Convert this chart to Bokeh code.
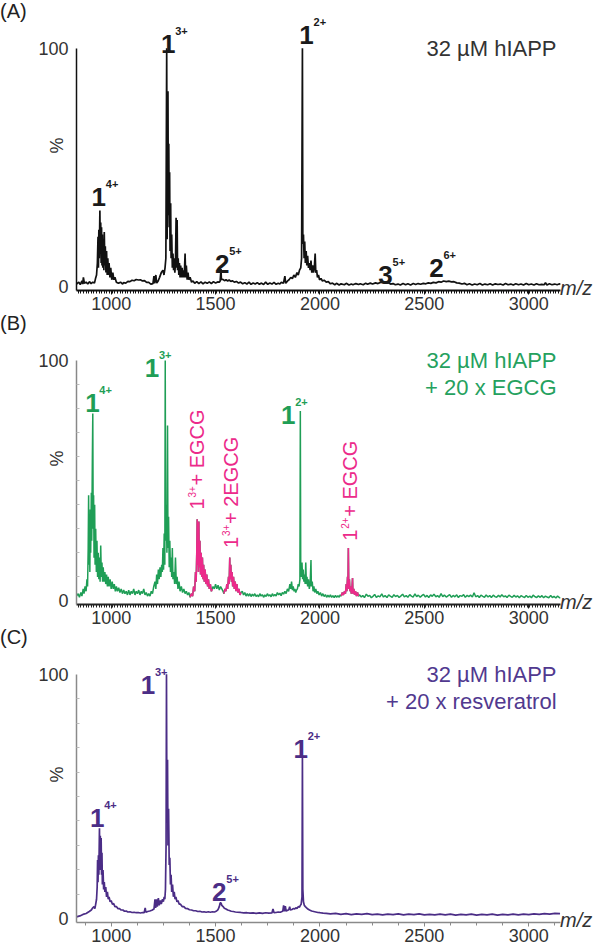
import numpy as np
from math import pi
from bokeh.plotting import figure
from bokeh.layouts import column
from bokeh.models import Range1d, FixedTicker, Legend, LegendItem
from bokeh.core.properties import value
from bokeh.embed import file_html
from bokeh.resources import INLINE

FONT = "Liberation Sans"

# ---------------- data ----------------
x_ticks = [1000, 1500, 2000, 2500, 3000]
y_ticks = [0, 100]

spec_A = [
    (834, 1.2), (845, 2.0), (852, 1.0), (860, 2.5), (864, 1.2), (867, 4.0), (872, 1.5), (880, 2.0),
    (888, 1.2), (896, 2.2), (904, 1.4), (912, 2.0), (920, 1.6), (925, 3.5), (930, 5), (934, 10),
    (937, 21), (939, 8), (941, 24), (943, 12), (946, 32), (948, 14), (950, 27), (952, 10), (954, 25),
    (956, 9), (958, 22), (960, 8), (962, 20), (965, 7), (967, 23), (970, 9), (972, 17), (975, 6),
    (978, 15), (981, 5), (984, 12), (987, 5), (990, 10), (994, 4), (998, 8), (1003, 3), (1008, 6),
    (1013, 3), (1018, 4), (1025, 2), (1035, 1.5), (1045, 2.0), (1055, 1.2), (1060, 1.8), (1070, 1.6),
    (1080, 2.3), (1090, 2.2), (1100, 2.8), (1110, 2.6), (1120, 3.1), (1130, 2.9), (1140, 3.0),
    (1150, 2.5), (1160, 2.6), (1170, 1.9), (1180, 1.9), (1190, 1.2), (1200, 1.4), (1205, 4.5),
    (1208, 1.5), (1214, 5.0), (1218, 1.6), (1225, 2.5), (1232, 4), (1240, 6), (1248, 7), (1253, 5),
    (1258, 8), (1262, 12), (1266, 100), (1268, 20), (1272, 82), (1274, 30), (1276, 60), (1278, 25),
    (1280, 48), (1282, 15), (1285, 35), (1287, 12), (1290, 22), (1293, 8), (1296, 14), (1299, 7),
    (1302, 12), (1305, 6), (1308, 10), (1311, 29), (1313, 8), (1316, 28), (1318, 7), (1321, 12),
    (1324, 5), (1327, 10), (1330, 4), (1333, 9), (1336, 4), (1340, 8), (1343, 4), (1346, 7),
    (1350, 4), (1354, 14), (1357, 4), (1360, 9), (1364, 3), (1368, 6), (1372, 3), (1378, 4),
    (1385, 2), (1392, 2.5), (1400, 1.5), (1410, 2.2), (1420, 1.4), (1430, 2.1), (1440, 1.3),
    (1450, 2.0), (1460, 1.5), (1470, 2.1), (1480, 1.4), (1490, 2.2), (1500, 1.6), (1510, 2.1),
    (1518, 2.0), (1522, 2.5), (1526, 7.5), (1528, 3), (1535, 3.2), (1543, 2.6), (1550, 3.0),
    (1558, 2.5), (1565, 2.9), (1573, 2.3), (1580, 2.6), (1590, 2.0), (1600, 2.3), (1610, 1.6),
    (1620, 2.0), (1630, 1.3), (1640, 1.8), (1650, 1.2), (1660, 2.0), (1670, 1.1), (1680, 1.6),
    (1690, 1.2), (1700, 1.8), (1710, 1.1), (1720, 1.6), (1730, 1.0), (1740, 2.0), (1750, 1.1),
    (1760, 1.6), (1770, 1.2), (1780, 1.9), (1790, 1.1), (1800, 1.5), (1808, 1.2), (1815, 2.0),
    (1825, 1.5), (1832, 4.5), (1836, 1.5), (1845, 2.5), (1852, 3), (1860, 4), (1868, 3.5),
    (1875, 5), (1882, 4), (1890, 6), (1896, 5), (1902, 7), (1908, 8), (1912, 12), (1916, 100),
    (1918, 18), (1921, 22), (1924, 12), (1927, 19), (1930, 10), (1934, 15), (1937, 9), (1941, 13),
    (1945, 8), (1949, 10), (1953, 7), (1957, 11), (1961, 6), (1965, 9), (1969, 6), (1973, 8),
    (1977, 14), (1980, 6), (1984, 7), (1988, 4), (1993, 5), (1998, 3), (2005, 3.5), (2012, 2.5),
    (2020, 2.8), (2030, 2.0), (2040, 2.2), (2050, 1.3), (2060, 1.6), (2071, 0.9), (2079, 1.5),
    (2092, 0.8), (2101, 1.3), (2117, 0.9), (2126, 1.5), (2139, 0.8), (2150, 1.2), (2158, 0.9),
    (2172, 1.4), (2185, 1.0), (2193, 1.3), (2207, 0.9), (2219, 1.5), (2228, 1.1), (2241, 1.6),
    (2252, 1.2), (2266, 1.7), (2278, 1.4), (2290, 1.9), (2303, 2.0), (2315, 1.6), (2326, 1.8),
    (2338, 1.2), (2350, 1.4), (2361, 0.9), (2374, 1.2), (2385, 0.8), (2398, 1.4), (2410, 0.9),
    (2421, 1.3), (2434, 0.8), (2447, 1.4), (2458, 1.0), (2470, 1.4), (2482, 1.1), (2495, 1.5),
    (2507, 1.3), (2519, 1.7), (2531, 1.5), (2543, 1.9), (2556, 1.7), (2568, 2.2), (2580, 2.0),
    (2592, 2.5), (2605, 2.2), (2617, 2.4), (2630, 2.1), (2642, 2.2), (2655, 1.7), (2667, 1.6),
    (2680, 1.2), (2692, 1.5), (2704, 0.9), (2716, 1.3), (2729, 0.8), (2741, 1.2), (2753, 0.9),
    (2766, 1.4), (2778, 0.8), (2790, 1.2), (2803, 0.9), (2815, 1.3), (2827, 0.8), (2840, 1.3),
    (2852, 1.0), (2864, 1.2), (2877, 0.8), (2889, 1.4), (2901, 0.9), (2914, 1.2), (2926, 0.8),
    (2938, 1.3), (2951, 0.9), (2963, 1.2), (2975, 0.8), (2988, 1.4), (3000, 0.9), (3012, 1.2),
    (3025, 0.8), (3037, 1.3), (3049, 0.9), (3062, 1.1), (3074, 0.9), (3080, 1.8), (3087, 0.8),
    (3099, 1.3), (3111, 0.9), (3124, 1.2), (3136, 0.9), (3148, 1.3), (3152, 1.0),
]

spec_B = [
    (834, 2.0), (842, 3), (848, 1.5), (855, 3.5), (860, 2), (866, 5), (870, 3), (875, 6), (880, 4),
    (884, 9), (887, 6), (890, 22), (892, 44), (894, 15), (896, 30), (898, 12), (900, 38), (902, 20),
    (905, 45), (907, 25), (910, 60), (912, 78), (914, 30), (916, 44), (918, 18), (921, 40), (923, 15),
    (926, 30), (929, 12), (932, 25), (935, 10), (938, 20), (941, 9), (944, 18), (947, 8), (950, 23),
    (953, 10), (956, 16), (959, 8), (962, 14), (966, 8), (970, 12), (974, 7), (978, 11), (982, 6),
    (986, 10), (990, 6), (995, 9), (1000, 5), (1005, 8), (1010, 5), (1015, 7), (1020, 4), (1025, 6),
    (1030, 4), (1036, 5.5), (1042, 3.5), (1048, 5), (1054, 3), (1060, 4.5), (1066, 3), (1072, 4),
    (1078, 2.5), (1084, 4.5), (1090, 2.5), (1096, 4), (1102, 3), (1108, 5), (1114, 2.5), (1120, 4),
    (1126, 3), (1132, 4.5), (1138, 2.5), (1144, 4), (1150, 3), (1156, 5), (1162, 2.5), (1168, 3.5),
    (1174, 2), (1180, 3), (1186, 2), (1192, 4), (1198, 3), (1204, 6), (1210, 8), (1214, 5),
    (1218, 11), (1222, 7), (1226, 13), (1230, 9), (1234, 14), (1238, 10), (1242, 15), (1245, 12),
    (1248, 22), (1251, 13), (1254, 28), (1257, 15), (1259, 100), (1261, 25), (1264, 40), (1267, 20),
    (1270, 73), (1272, 22), (1275, 35), (1278, 14), (1281, 25), (1284, 12), (1287, 18), (1290, 10),
    (1293, 22), (1296, 9), (1300, 12), (1304, 7), (1308, 18), (1312, 7), (1316, 10), (1320, 5),
    (1325, 8), (1330, 4), (1336, 6), (1342, 3.5), (1348, 5), (1354, 3), (1360, 4), (1366, 2.5),
    (1372, 3.5), (1378, 1.5), (1384, 3), (1390, 2), (1395, 6), (1400, 4), (1404, 12), (1407, 8),
    (1410, 20), (1412, 34), (1414, 15), (1416, 30), (1418, 12), (1420, 33), (1422, 14), (1425, 25),
    (1428, 11), (1431, 20), (1434, 10), (1437, 18), (1440, 9), (1443, 15), (1446, 8), (1450, 13),
    (1454, 7), (1458, 11), (1462, 6), (1466, 9), (1470, 5), (1475, 7), (1480, 4), (1484, 5),
    (1488, 6), (1494, 5), (1500, 7), (1506, 5), (1512, 6.5), (1518, 4.5), (1524, 6), (1530, 5),
    (1536, 4), (1540, 3), (1545, 5), (1550, 4), (1554, 7), (1558, 5), (1562, 10), (1565, 7),
    (1568, 18), (1570, 9), (1573, 15), (1576, 8), (1579, 12), (1582, 6), (1586, 10), (1590, 5),
    (1594, 8), (1598, 4), (1602, 7), (1607, 3.5), (1612, 5), (1617, 2.5), (1622, 3.5), (1628, 4),
    (1634, 2.5), (1640, 3.5), (1646, 2), (1652, 3), (1658, 2), (1664, 3), (1670, 1.8), (1676, 2.8),
    (1682, 2), (1688, 3), (1694, 1.8), (1700, 2.5), (1706, 1.7), (1712, 3), (1718, 2), (1724, 2.6),
    (1730, 1.5), (1736, 2.5), (1742, 1.8), (1748, 3), (1754, 2), (1760, 2.6), (1766, 1.7), (1772, 3),
    (1778, 2), (1784, 2.7), (1790, 2), (1796, 3.5), (1802, 2.5), (1808, 3.2), (1814, 2.2),
    (1820, 3.5), (1826, 2.8), (1832, 4), (1838, 3), (1844, 5), (1850, 4), (1856, 7), (1860, 5),
    (1864, 8), (1868, 4.5), (1872, 6), (1876, 4), (1880, 5), (1884, 3.5), (1888, 4.5), (1892, 5),
    (1896, 7), (1900, 6), (1904, 9), (1906, 79), (1908, 12), (1911, 10), (1914, 16), (1917, 9),
    (1920, 13), (1923, 8), (1926, 11), (1929, 7), (1932, 16), (1935, 7), (1938, 10), (1941, 6),
    (1945, 9), (1949, 5), (1953, 7), (1957, 17), (1959, 6), (1963, 8), (1967, 4), (1971, 6),
    (1975, 3.5), (1980, 5), (1985, 3), (1990, 4), (1996, 2.5), (2002, 3.5), (2008, 2), (2014, 3),
    (2020, 1.8), (2026, 2.6), (2032, 1.5), (2038, 2.4), (2044, 1.6), (2050, 2.5), (2056, 1.5),
    (2062, 2.2), (2068, 1.4), (2074, 2.3), (2080, 1.5), (2086, 2.2), (2092, 1.5), (2097, 2.5),
    (2102, 2), (2107, 3.5), (2112, 2.5), (2118, 4), (2122, 3), (2126, 7), (2129, 4), (2132, 10),
    (2134, 6), (2136, 22), (2138, 5), (2141, 9), (2144, 4), (2147, 6), (2150, 3), (2153, 5),
    (2156, 9.5), (2158, 3), (2162, 5), (2166, 2.5), (2170, 4), (2175, 2), (2180, 3.5), (2184, 2),
    (2190, 2.5), (2198, 1.6), (2205, 2.2), (2213, 1.4), (2222, 2.8), (2230, 1.9), (2238, 2.3),
    (2246, 1.3), (2255, 2.0), (2262, 2.7), (2270, 1.5), (2279, 2.1), (2287, 1.7), (2296, 2.9),
    (2304, 1.6), (2312, 2.2), (2321, 1.4), (2329, 2.5), (2337, 2.0), (2346, 1.5), (2354, 2.6),
    (2362, 1.8), (2371, 2.3), (2379, 1.4), (2388, 2.1), (2396, 2.8), (2404, 1.7), (2413, 2.2),
    (2421, 1.5), (2430, 2.6), (2438, 2.0), (2446, 1.6), (2455, 2.9), (2463, 1.8), (2471, 2.4),
    (2480, 1.5), (2488, 2.2), (2496, 2.7), (2505, 1.6), (2513, 2.3), (2521, 1.4), (2530, 2.5),
    (2538, 1.9), (2546, 2.8), (2555, 1.7), (2563, 2.2), (2571, 1.5), (2580, 3.0), (2588, 1.8),
    (2596, 2.4), (2605, 1.6), (2613, 2.1), (2621, 2.6), (2630, 1.5), (2638, 2.3), (2646, 1.7),
    (2655, 2.5), (2663, 1.4), (2671, 2.2), (2680, 1.9), (2688, 2.6), (2696, 1.5), (2705, 2.3),
    (2713, 1.8), (2721, 2.4), (2730, 1.6), (2738, 3.4), (2746, 1.7), (2755, 2.2), (2763, 1.4),
    (2771, 2.4), (2780, 1.9), (2788, 1.5), (2796, 2.5), (2805, 1.6), (2813, 2.2), (2821, 1.4),
    (2830, 2.4), (2838, 1.8), (2846, 1.5), (2855, 2.3), (2863, 1.6), (2871, 2.6), (2880, 1.7),
    (2888, 2.1), (2896, 1.4), (2905, 2.4), (2913, 1.9), (2921, 1.5), (2930, 2.3), (2938, 1.6),
    (2946, 2.1), (2955, 1.3), (2963, 2.2), (2971, 1.8), (2980, 1.4), (2988, 2.3), (2996, 1.5),
    (3005, 2.0), (3013, 1.3), (3021, 2.4), (3030, 1.7), (3038, 1.4), (3046, 2.1), (3055, 1.5),
    (3063, 2.2), (3071, 1.3), (3080, 2.0), (3088, 1.6), (3096, 1.3), (3105, 2.2), (3113, 1.4),
    (3121, 1.9), (3130, 1.2), (3138, 2.0), (3146, 1.4), (3152, 1.2),
]
# m/z windows of the EGCG adduct signals (drawn in pink)
adduct_windows = [(1375, 1486), (1538, 1625), (2099, 2186)]

spec_C = [
    (834, 0.8), (850, 1.2), (865, 1.8), (880, 2.2), (895, 3.0), (905, 3.6), (912, 4.5), (918, 5.0),
    (922, 4.2), (926, 6), (930, 8), (933, 13), (935, 24), (937, 15), (939, 26), (941, 18), (944, 37),
    (946, 20), (948, 34), (950, 22), (952, 33), (954, 18), (956, 27), (958, 14), (961, 20), (964, 12),
    (967, 15), (970, 11), (974, 13), (978, 9), (982, 11), (986, 8), (990, 9), (995, 7), (1000, 7.5),
    (1006, 6), (1012, 6.2), (1018, 5), (1025, 5), (1032, 4.2), (1040, 4.2), (1048, 3.6), (1056, 3.6),
    (1064, 3.1), (1072, 3.2), (1080, 2.8), (1090, 2.9), (1100, 2.6), (1110, 2.7), (1120, 2.5),
    (1130, 2.6), (1140, 2.4), (1150, 2.6), (1158, 2.5), (1163, 4.5), (1166, 2.7), (1175, 3.0),
    (1185, 3.2), (1195, 3.5), (1205, 4.0), (1210, 8), (1213, 4.5), (1218, 8), (1221, 5), (1226, 8.5),
    (1230, 5.5), (1236, 7.5), (1240, 6), (1246, 8), (1250, 7), (1254, 9), (1257, 8), (1260, 12),
    (1263, 30), (1265, 100), (1267, 40), (1270, 65), (1272, 30), (1275, 45), (1278, 22), (1281, 25),
    (1284, 14), (1287, 18), (1290, 11), (1294, 14), (1298, 9), (1302, 11), (1306, 8), (1310, 9),
    (1315, 7), (1320, 7.5), (1326, 6), (1332, 6), (1340, 5), (1348, 5), (1356, 4.3), (1365, 4.2),
    (1375, 3.7), (1385, 3.6), (1395, 3.3), (1405, 3.3), (1415, 3.0), (1425, 3.1), (1435, 2.8),
    (1445, 2.9), (1455, 2.7), (1465, 2.9), (1475, 2.7), (1485, 2.9), (1495, 2.8), (1505, 3.2),
    (1512, 3.8), (1518, 5.0), (1522, 6.5), (1526, 6.5), (1530, 5.5), (1536, 5.0), (1542, 4.3),
    (1550, 4.0), (1558, 3.6), (1566, 3.4), (1575, 3.1), (1585, 3.0), (1595, 2.8), (1605, 2.7),
    (1620, 2.6), (1635, 2.4), (1650, 2.5), (1665, 2.3), (1680, 2.4), (1695, 2.2), (1710, 2.4),
    (1725, 2.2), (1740, 2.5), (1755, 2.3), (1770, 2.4), (1775, 4.0), (1780, 2.5), (1790, 2.6),
    (1800, 2.8), (1810, 2.7), (1818, 3.0), (1822, 3.2), (1826, 5.5), (1830, 3.0), (1834, 5.2),
    (1838, 3.2), (1846, 3.5), (1852, 4.0), (1855, 5.0), (1858, 3.6), (1866, 3.8), (1872, 4.2),
    (1878, 4.0), (1884, 4.5), (1890, 4.2), (1896, 5.0), (1902, 4.8), (1906, 5.5), (1910, 6.0),
    (1914, 9), (1916, 66), (1918, 12), (1921, 7), (1925, 5.5), (1930, 5.0), (1936, 4.5), (1942, 4.0),
    (1950, 3.6), (1960, 3.2), (1970, 3.0), (1980, 2.8), (1990, 2.6), (2000, 2.5), (2015, 2.3),
    (2030, 2.2), (2050, 2.0), (2075, 2.2), (2100, 1.8), (2125, 2.1), (2150, 1.7), (2175, 2.0),
    (2200, 1.8), (2225, 2.1), (2250, 1.7), (2275, 1.9), (2300, 1.6), (2325, 1.9), (2350, 1.7),
    (2375, 2.0), (2400, 1.6), (2425, 1.9), (2450, 1.7), (2475, 2.0), (2500, 1.6), (2525, 1.8),
    (2550, 1.6), (2575, 1.9), (2600, 1.6), (2625, 1.9), (2650, 1.5), (2675, 1.8), (2700, 1.6),
    (2725, 1.9), (2750, 1.5), (2775, 1.8), (2800, 1.6), (2825, 1.9), (2850, 1.5), (2875, 1.8),
    (2900, 1.6), (2925, 1.9), (2950, 1.6), (2975, 1.9), (3000, 1.7), (3025, 2.0), (3050, 1.8),
    (3075, 2.1), (3100, 1.9), (3125, 2.2), (3150, 2.1),
]

# peak annotations: (main digit, charge state, m/z, intensity of label baseline)
peaks_A = [("1", "4+", 941, 37.6), ("1", "3+", 1273, 101.6), ("2", "5+", 1532, 9.8),
           ("1", "2+", 1936, 105.7), ("3", "5+", 2314, 4.9), ("2", "6+", 2558, 7.8)]
peaks_B = [("1", "4+", 910, 82.3), ("1", "3+", 1195, 96.7), ("1", "2+", 1848, 77.4)]
peaks_C = [("1", "4+", 933, 41.1), ("1", "3+", 1176, 95.6), ("2", "5+", 1518, 10.9),
           ("1", "2+", 1908, 69.4)]
adduct_labels = [("1", "3+", "+ EGCG", 1411, 38), ("1", "3+", "+ 2EGCG", 1573, 22),
                 ("1", "2+", "+ EGCG", 2143, 25)]

titles_A = ["32 µM hIAPP"]
titles_B = ["32 µM hIAPP", "+ 20 x EGCG"]
titles_C = ["32 µM hIAPP", "+ 20 x resveratrol"]

# ---------------- styling ----------------
BLACK = "#111111"
GREEN = "#1f9e56"
PINK = "#ec2a8a"
PURPLE = "#4b2d86"
GREEN_TXT = "#25a15e"
PURPLE_TXT = "#51398f"
TICK_TXT = "#333333"

X0, X1 = 834, 3152
Y0 = -1.5


def text_legend(text, renderer, size, style, color, location):
    return Legend(items=[LegendItem(label=value(text), renderers=[renderer])],
                  location=location, orientation="vertical",
                  glyph_width=0, glyph_height=size, label_standoff=0, label_height=size,
                  label_width=0, padding=0, margin=0, spacing=0,
                  border_line_color=None, background_fill_alpha=0,
                  label_text_font=FONT, label_text_font_size=f"{size}px",
                  label_text_font_style=style, label_text_color=color,
                  label_text_baseline="middle")


def make_panel(letter, spec, color, lw, titles, title_color, peaks, peak_color,
               axis_color, y_axis_color, dense, height, y_top):
    mz = np.array([s[0] for s in spec], dtype=float)
    it = np.array([s[1] for s in spec], dtype=float)
    p = figure(width=608, height=height, x_range=Range1d(X0, X1), y_range=Range1d(Y0, y_top),
               output_backend="svg", toolbar_location=None,
               min_border_left=82, min_border_right=30, min_border_top=0, min_border_bottom=0)
    p.outline_line_color = None
    p.grid.visible = False
    r = p.line(mz, it, line_color=color, line_width=lw)

    # x axis
    xa = p.xaxis[0]
    if dense:
        minors = list(np.arange(842.5, X1, 12.5))
    else:
        minors = list(np.arange(875, X1, 125))
    xa.ticker = FixedTicker(ticks=x_ticks, minor_ticks=minors)
    xa.axis_line_color = axis_color
    xa.axis_line_width = 2 if dense else 1.5
    xa.major_tick_line_color = axis_color
    xa.minor_tick_line_color = axis_color
    xa.major_tick_in = 0
    xa.major_tick_out = 4
    xa.minor_tick_in = 0
    xa.minor_tick_out = 3
    xa.major_label_standoff = 2
    xa.major_label_text_font = FONT
    xa.major_label_text_font_size = "18px"
    xa.major_label_text_color = TICK_TXT

    # y axis
    ya = p.yaxis[0]
    ya.ticker = FixedTicker(ticks=y_ticks, minor_ticks=list(range(10, 100, 10)))
    ya.bounds = (Y0, 100)
    ya.axis_line_color = y_axis_color
    ya.axis_line_width = 1.5
    ya.major_tick_in = 0
    ya.major_tick_out = 0
    ya.minor_tick_in = 0 if letter == "(A)" else 3
    ya.minor_tick_out = 0
    ya.minor_tick_line_color = "#bbbbbb"
    ya.major_label_standoff = 8
    ya.major_label_text_font = FONT
    ya.major_label_text_font_size = "18px"
    ya.major_label_text_color = TICK_TXT
    ya.axis_label = "%"
    ya.axis_label_standoff = -32
    ya.axis_label_text_font = FONT
    ya.axis_label_text_font_size = "18px"
    ya.axis_label_text_font_style = "normal"
    ya.axis_label_text_color = TICK_TXT

    # peak annotations
    for d, ch, x, y in peaks:
        p.text(x=[x], y=[y], text=[d], text_font=value(FONT), text_font_size="26px",
               text_font_style="bold", text_align="center", text_baseline="alphabetic",
               text_color=peak_color)
        p.text(x=[x], y=[y], text=[ch], text_font=value(FONT), text_font_size="11px",
               text_font_style="bold", text_align="left", text_baseline="alphabetic",
               text_color=peak_color, x_offset=7, y_offset=-13)

    # sample description
    for i, t in enumerate(titles):
        p.text(x=[3133], y=[100 - 11 * i], text=[t], text_font=value(FONT),
               text_font_size="22px", text_align="right", text_baseline="middle",
               text_color=title_color)

    p.add_layout(text_legend(letter, r, 20, "normal", "#222222", "top_left"), "left")
    p.add_layout(text_legend("m/z", r, 20, "italic", TICK_TXT, (0, -10)), "right")
    return p, mz, it


pA, _, _ = make_panel("(A)", spec_A, BLACK, 1.7, titles_A, "#333333", peaks_A, "#1a1a1a",
                      "#111111", "#111111", True, 312, 120)
pB, mzB, itB = make_panel("(B)", spec_B, GREEN, 1.5, titles_B, GREEN_TXT, peaks_B, GREEN,
                          "#222222", "#888888", True, 314, 120)
for lo, hi in adduct_windows:
    m = (mzB >= lo) & (mzB <= hi)
    pB.line(mzB[m], itB[m], line_color=PINK, line_width=1.6)
for d, ch, rest, x, y in adduct_labels:
    pB.text(x=[x], y=[y], text=[d], text_font=value(FONT), text_font_size="20px",
            text_align="left", text_baseline="middle", text_color=PINK, angle=pi / 2)
    pB.text(x=[x], y=[y], text=[ch], text_font=value(FONT), text_font_size="10px",
            text_align="left", text_baseline="middle", text_color=PINK, angle=pi / 2,
            x_offset=-5, y_offset=-12)
    pB.text(x=[x], y=[y], text=[rest], text_font=value(FONT), text_font_size="20px",
            text_align="left", text_baseline="middle", text_color=PINK, angle=pi / 2,
            y_offset=-24)

pC, _, _ = make_panel("(C)", spec_C, PURPLE, 1.7, titles_C, PURPLE_TXT, peaks_C, PURPLE,
                      "#8a8a8a", "#8a8a8a", False, 318, 119.5)

layout = column(pA, pB, pC, spacing=0)
open("out.html", "w").write(file_html(layout, INLINE))
